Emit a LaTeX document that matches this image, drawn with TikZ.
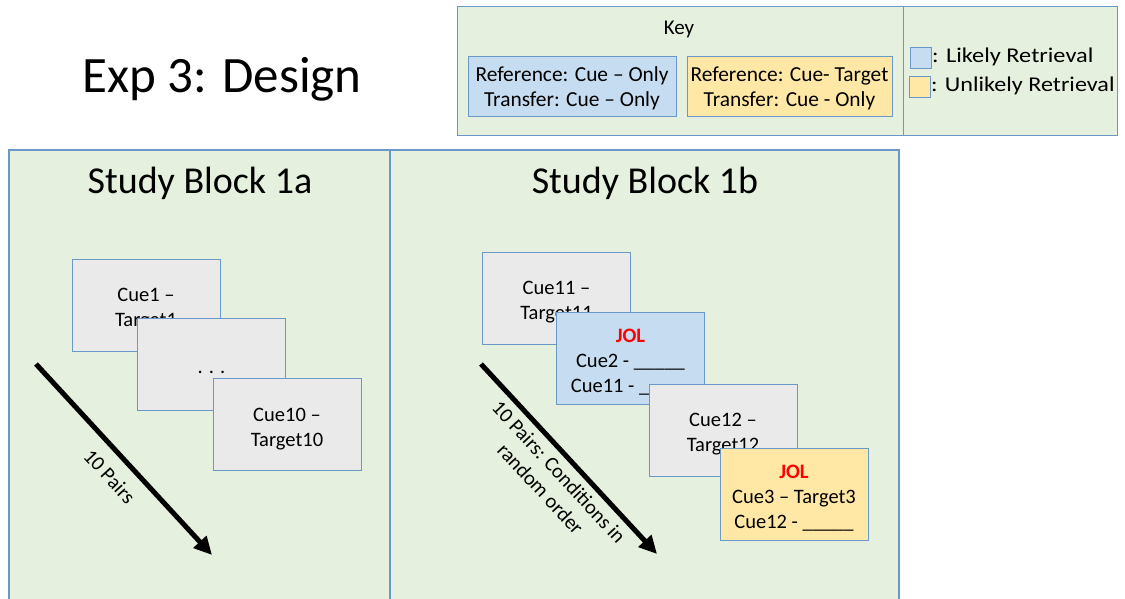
\documentclass[tikz,border=0pt]{standalone}
\usepackage{fontspec}
\setmainfont{Carlito}
\usetikzlibrary{arrows.meta}
\definecolor{bgreen}{HTML}{E6F0DE}
\definecolor{bline}{HTML}{6A98C8}
\definecolor{cardgray}{HTML}{EAEAEA}
\definecolor{kblue}{HTML}{C6DCF0}
\definecolor{kyellow}{HTML}{FFE8A6}
\newcommand{\cardtxt}[2][-4pt]{\raisebox{#1}[\height][\depth]{\begin{tabular}{@{}c@{}}#2\end{tabular}}}
\tikzset{
  panel/.style={fill=bgreen, draw=bline, line width=1.2pt},
  card/.style={draw=bline, line width=1pt, minimum width=148pt, minimum height=92pt, inner sep=0pt, align=center, font=\fontsize{20.5}{25}\selectfont},
  graycard/.style={card, fill=cardgray},
  bluecard/.style={card, fill=kblue},
  yellowcard/.style={card, fill=kyellow},
  keybox/.style={draw=bline, line width=1pt, inner sep=0pt, align=center, font=\fontsize{21.4}{24.5}\selectfont},
  swatch/.style={draw=bline, line width=1.2pt, minimum width=21pt, minimum height=21pt, inner sep=0pt},
  legend/.style={anchor=west, inner sep=0pt, font=\fontsize{21}{25}\selectfont},
  flow/.style={line width=5pt, -{Triangle[length=18pt,width=17pt]}},
  flowlabel/.style={font=\fontsize{20.5}{25}\selectfont, align=center, sloped}
}
\begin{document}
\begin{tikzpicture}[x=1pt,y=-1pt]
\useasboundingbox (0,0) rectangle (1125,598);
% Title
\node[font=\fontsize{51}{60}\selectfont, anchor=base] (title) at (222,92) {Exp 3: Design};
% Key
\filldraw[panel, line width=1pt] (457,6) rectangle (1117,135);
\draw[bline, line width=1pt] (903,6) -- (903,135);
\node[font=\fontsize{21}{25}\selectfont] (keytitle) at (679,29) {Key};
\node[keybox, fill=kblue, minimum width=208pt, minimum height=60pt] (kb) at (572,86) {\cardtxt[-3pt]{Reference: Cue -- Only\\Transfer: Cue -- Only}};
\node[keybox, fill=kyellow, minimum width=205pt, minimum height=60pt] (ky) at (789.5,86) {\cardtxt[-3pt]{Reference: Cue- Target\\Transfer: Cue - Only}};
\node[swatch, fill=kblue] (sb) at (921,58) {};
\node[swatch, fill=kyellow] (sy) at (920,87) {};
\node[legend] (lb) at (932,57) {\scalebox{1.16}[1]{: Likely Retrieval}};
\node[legend] (ly) at (931,86) {\scalebox{1.15}[1]{: Unlikely Retrieval}};
% Study blocks
\fill[bgreen] (9,150) rectangle (899,600);
\draw[bline, line width=1.2pt] (9,600) -- (9,150) -- (899,150) -- (899,600);
\draw[bline, line width=1.2pt] (390,150) -- (390,600);
\node[font=\fontsize{38}{45}\selectfont] (t1a) at (200,183) {Study Block 1a};
\node[font=\fontsize{38}{45}\selectfont] (t1b) at (645,183) {Study Block 1b};
% Block 1a cards
\node[graycard] (c1) at (146,305) {\cardtxt{Cue1 --\\Target1}};
\node[graycard] (c2) at (211.5,364) {\cardtxt{. . .}};
\node[graycard] (c3) at (287,424.5) {\cardtxt{Cue10 --\\Target10}};
\coordinate (a1s) at (36,364);
\coordinate (a1e) at (212,555);
\draw[flow] (a1s) -- node[flowlabel, below=9pt, pos=0.51] (l1) {10 Pairs} (a1e);
% Block 1b cards
\node[graycard] (c11) at (556.5,298) {\cardtxt{Cue11 --\\Target11}};
\node[bluecard] (j1) at (630.5,358) {\cardtxt{\textcolor{red}{\bfseries JOL}\\Cue2 - \_\_\_\_\_\\Cue11 - \_\_\_\_\_}};
\node[graycard] (c12) at (723,430) {\cardtxt{Cue12 --\\Target12}};
\node[yellowcard] (j2) at (794,494.5) {\cardtxt{\textcolor{red}{\bfseries JOL}\\Cue3 -- Target3\\Cue12 - \_\_\_\_\_}};
\coordinate (a2s) at (481,364);
\coordinate (a2e) at (657,554);
\draw[flow] (a2s) -- node[flowlabel, below=3pt, pos=0.51] (l2) {10 Pairs: Conditions in\\random order} (a2e);
\end{tikzpicture}
\end{document}
